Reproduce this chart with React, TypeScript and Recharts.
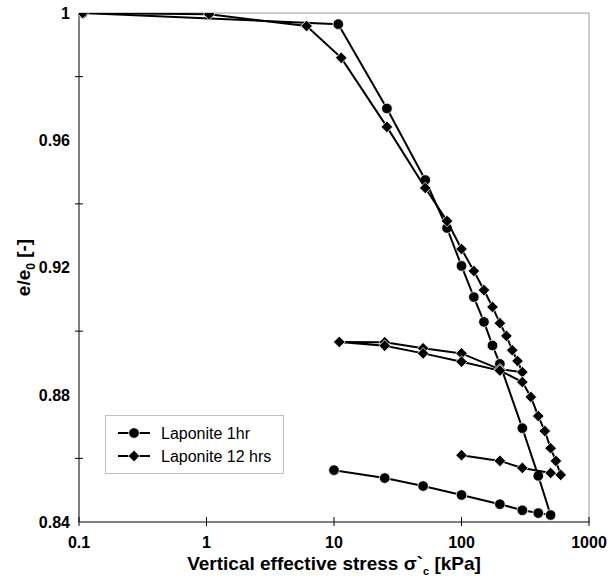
import React from 'react';
import { ScatterChart, Scatter, XAxis, YAxis, ReferenceLine, Legend } from 'recharts';

const xTicks = [0.1, 1, 10, 100, 1000];
const yTicks = [0.84, 0.86, 0.88, 0.9, 0.92, 0.94, 0.96, 0.98, 1.0];
const seriesNames = ['Laponite 1hr', 'Laponite 12 hrs'];

const stress1hr = [0.107, 10.8, 26, 52, 77, 100, 125, 150, 175, 200, 300, 400, 500, 400, 300, 200, 100, 50, 25, 10];
const ratio1hr = [1.0, 0.9965, 0.970, 0.9475, 0.9324, 0.9205, 0.9107, 0.9029, 0.8955, 0.8897, 0.8695, 0.8545, 0.8422, 0.8428, 0.8437, 0.8456, 0.8485, 0.8513, 0.8538, 0.8563];

const stress12hr = [0.107, 1.05, 6.1, 11.4, 26, 52, 77, 100, 125, 150, 175, 200, 225, 250, 275, 300, 200, 100, 50, 25, 11, 25, 50, 100, 200, 300, 350, 400, 450, 500, 550, 600, 500, 300, 200, 100];
const ratio12hr = [1.0, 0.9996, 0.9959, 0.9859, 0.9642, 0.945, 0.9346, 0.9258, 0.9189, 0.9129, 0.9076, 0.9025, 0.8985, 0.894, 0.8906, 0.8871, 0.888, 0.893, 0.8946, 0.8965, 0.8966, 0.8954, 0.893, 0.8904, 0.8876, 0.884, 0.8793, 0.8733, 0.8686, 0.8632, 0.8592, 0.8548, 0.8554, 0.857, 0.8592, 0.861];

const data1hr = stress1hr.map((x, i) => ({ x, y: ratio1hr[i] }));
const data12hr = stress12hr.map((x, i) => ({ x, y: ratio12hr[i] }));

const FONT = '"Liberation Sans", Arial, Helvetica, sans-serif';

const CircleShape = (props: any) => {
  const { cx, cy } = props;
  if (cx == null || cy == null) return null;
  return <circle cx={cx} cy={cy} r={5.3} fill="#000" stroke="#fff" strokeWidth={0.8} />;
};

const DiamondShape = (props: any) => {
  const { cx, cy } = props;
  if (cx == null || cy == null) return null;
  const s = 5.8;
  return (
    <path
      d={`M${cx},${cy - s}L${cx + s},${cy}L${cx},${cy + s}L${cx - s},${cy}Z`}
      fill="#000"
      stroke="#fff"
      strokeWidth={0.8}
    />
  );
};

const YTick = (props: any) => {
  const { x, y, payload } = props;
  const v = payload.value;
  const major = Math.round(v * 100) % 4 === 0;
  if (major) {
    return (
      <text x={x - 9} y={y} dy={5.8} textAnchor="end" fontFamily={FONT} fontWeight="bold" fontSize={16} fill="#000">
        {v === 1 ? '1' : v.toFixed(2)}
      </text>
    );
  }
  return <line x1={x - 4} x2={x + 4} y1={y} y2={y} stroke="#000" strokeWidth={1} />;
};

const XTick = (props: any) => {
  const { x, y, payload } = props;
  return (
    <g>
      <line x1={x} x2={x} y1={y - 5} y2={y + 4} stroke="#000" strokeWidth={1} />
      <text x={x} y={y + 26} textAnchor="middle" fontFamily={FONT} fontWeight="bold" fontSize={16} fill="#000">
        {String(payload.value)}
      </text>
    </g>
  );
};

const XTitle = (props: any) => {
  const vb = props.viewBox || {};
  const cx = vb.x + vb.width / 2;
  const y = vb.y + 48;
  return (
    <text x={cx} y={y} textAnchor="middle" fontFamily={FONT} fontWeight="bold" fontSize={19} fill="#000">
      <tspan>Vertical effective stress σ`</tspan>
      <tspan dy={5} fontSize={11}>c</tspan>
      <tspan dy={-5}> [kPa]</tspan>
    </text>
  );
};

const YTitle = (props: any) => {
  const vb = props.viewBox || {};
  const cy = vb.y + vb.height / 2;
  const x = 30;
  return (
    <text x={x} y={cy} transform={`rotate(-90, ${x}, ${cy})`} textAnchor="middle" fontFamily={FONT} fontWeight="bold" fontSize={19} fill="#000">
      <tspan>e/e</tspan>
      <tspan dy={5} fontSize={12}>0</tspan>
      <tspan dy={-5}> [-]</tspan>
    </text>
  );
};

const LegendBox = () => (
  <svg width={180} height={60} style={{ display: 'block' }}>
    <rect x={0.5} y={0.5} width={178} height={58} fill="#fff" stroke="#c0c0c0" strokeWidth={1} />
    {seriesNames.map((name, i) => {
      const cy = 18 + i * 23;
      return (
        <g key={name}>
          <line x1={13} x2={45} y1={cy} y2={cy} stroke="#000" strokeWidth={2} />
          {i === 0 ? <CircleShape cx={29} cy={cy} /> : <DiamondShape cx={29} cy={cy} />}
          <text x={56} y={cy} dy={5.8} fontFamily={FONT} fontSize={16} fill="#000">
            {name}
          </text>
        </g>
      );
    })}
  </svg>
);

export default function App() {
  return (
    <div style={{ position: 'absolute', left: 0, top: 0, width: 608, height: 577, background: '#fff' }}>
      <ScatterChart width={608} height={577} margin={{ top: 13, right: 19, left: 0, bottom: 0 }}>
        <XAxis
          dataKey="x"
          type="number"
          scale="log"
          domain={[0.1, 1000]}
          ticks={xTicks}
          interval={0}
          allowDataOverflow
          tick={<XTick />}
          tickLine={false}
          tickSize={0}
          tickMargin={0}
          height={55}
          axisLine={{ stroke: '#000', strokeWidth: 1 }}
          label={<XTitle />}
        />
        <YAxis
          dataKey="y"
          type="number"
          domain={[0.84, 1.0]}
          ticks={yTicks}
          interval={0}
          allowDataOverflow
          tick={<YTick />}
          tickLine={false}
          tickSize={0}
          tickMargin={0}
          width={79}
          axisLine={{ stroke: '#000', strokeWidth: 1 }}
          label={<YTitle />}
        />
        <ReferenceLine y={1.0} stroke="#999" strokeWidth={1} ifOverflow="visible" />
        <ReferenceLine x={1000} stroke="#999" strokeWidth={1} ifOverflow="visible" />
        <Legend
          layout="vertical"
          align="center"
          verticalAlign="middle"
          content={() => <LegendBox />}
          wrapperStyle={{ position: 'absolute', left: 105, top: 415, width: 180, height: 60 }}
        />
        <Scatter
          name={seriesNames[0]}
          data={data1hr}
          line={{ stroke: '#000', strokeWidth: 2 }}
          lineType="joint"
          shape={<CircleShape />}
          isAnimationActive={false}
        />
        <Scatter
          name={seriesNames[1]}
          data={data12hr}
          line={{ stroke: '#000', strokeWidth: 2 }}
          lineType="joint"
          shape={<DiamondShape />}
          isAnimationActive={false}
        />
      </ScatterChart>
    </div>
  );
}
